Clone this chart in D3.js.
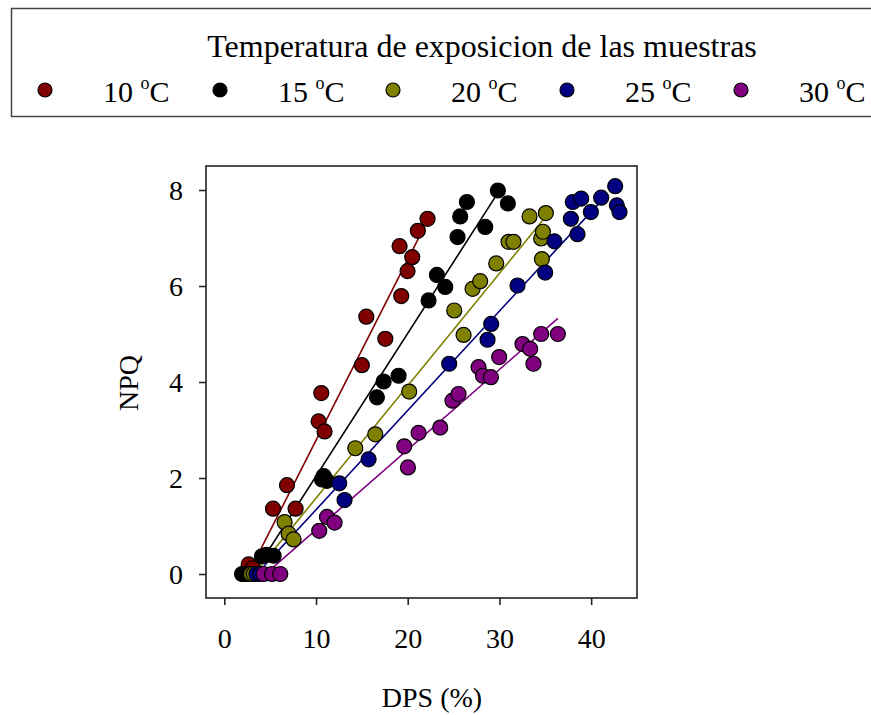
<!DOCTYPE html>
<html>
<head>
<meta charset="utf-8">
<script src="https://cdn.jsdelivr.net/npm/d3@7"></script>
<style>
  html, body { margin: 0; padding: 0; background: #fff; }
  svg { display: block; font-family: "Liberation Serif", "Times New Roman", serif; }
</style>
</head>
<body>
<svg id="chart" width="871" height="715"></svg>
<script>
// ---------------- DATA ----------------
const seriesNames = ["10", "15", "20", "25", "30"];
const seriesColors = ["#800000", "#000000", "#808000", "#000080", "#800080"];
const legendTitle = "Temperatura de exposicion de las muestras";
const xTicks = [0, 10, 20, 30, 40];
const yTicks = [0, 2, 4, 6, 8];
const xLabel = "DPS (%)";
const yLabel = "NPQ";

const dps10 = [2.1, 2.65, 3.1, 5.31, 6.83, 7.77, 10.28, 10.57, 10.93, 15.0, 15.48, 17.55, 19.11, 19.29, 19.98, 20.49, 21.1, 22.16];
const npq10 = [0, 0.2, 0.12, 1.36, 1.85, 1.36, 3.18, 3.77, 2.97, 4.35, 5.36, 4.9, 6.83, 5.79, 6.31, 6.6, 7.15, 7.40];

const dps15 = [1.93, 2.47, 4.1, 4.6, 5.37, 10.65, 10.83, 11.2, 16.64, 17.37, 19.0, 22.27, 23.18, 24.09, 25.43, 25.72, 26.45, 28.45, 29.83, 30.92];
const npq15 = [0, 0, 0.37, 0.4, 0.38, 1.97, 2.04, 1.94, 3.68, 4.01, 4.13, 5.70, 6.23, 5.98, 7.02, 7.45, 7.75, 7.23, 7.99, 7.72];

const dps20 = [2.9, 3.2, 6.57, 7.01, 7.55, 14.28, 16.46, 20.16, 25.07, 26.09, 27.07, 27.9, 29.65, 30.99, 31.53, 33.28, 34.55, 34.63, 34.74, 35.06];
const npq20 = [0, 0, 1.08, 0.84, 0.72, 2.62, 2.91, 3.80, 5.49, 4.98, 5.94, 6.10, 6.47, 6.92, 6.92, 7.45, 6.99, 6.56, 7.13, 7.52];

const dps25 = [3.5, 3.9, 12.53, 13.11, 15.73, 24.52, 28.7, 29.1, 31.97, 34.99, 36.0, 37.79, 38.0, 38.51, 38.91, 39.97, 41.09, 42.62, 42.8, 43.09];
const npq25 = [0, 0, 1.89, 1.54, 2.39, 4.38, 4.88, 5.21, 6.01, 6.28, 6.93, 7.40, 7.75, 7.08, 7.82, 7.54, 7.84, 8.08, 7.68, 7.54];

const dps30 = [4.29, 5.2, 6.1, 10.35, 11.19, 12.02, 19.62, 20.02, 21.18, 23.54, 24.88, 25.54, 27.72, 28.2, 29.07, 29.97, 32.51, 33.35, 33.71, 34.55, 36.37];
const npq30 = [0, 0, 0, 0.90, 1.19, 1.07, 2.66, 2.22, 2.94, 3.05, 3.61, 3.75, 4.31, 4.13, 4.10, 4.52, 4.79, 4.69, 4.38, 5.0, 5.0];

// linear regression lines
const fitSlope = [0.3766, 0.2977, 0.2341, 0.2069, 0.167];
const fitIntercept = [-0.98, -0.94, -0.76, -0.73, -0.75];
const fitXStart = [2.4, 3.0, 3.1, 3.4, 4.6];
const fitXEnd = [22.4, 29.9, 34.74, 41.0, 36.37];

const dpsAll = [dps10, dps15, dps20, dps25, dps30];
const npqAll = [npq10, npq15, npq20, npq25, npq30];

// ---------------- CHART ----------------
const svg = d3.select("#chart");
const mLeft = 206, mRight = 637, mTop = 166, mBottom = 598;

const x = d3.scaleLinear().domain([-2, 45]).range([mLeft, mRight]);
const y = d3.scaleLinear().domain([-0.5, 8.5]).range([mBottom, mTop]);

const axisColor = "#222";

// frame
svg.append("rect")
  .attr("x", mLeft).attr("y", mTop)
  .attr("width", mRight - mLeft).attr("height", mBottom - mTop)
  .attr("fill", "none").attr("stroke", axisColor).attr("stroke-width", 1.6);

// axes
const xAxis = svg.append("g").attr("transform", `translate(0,${mBottom})`)
  .call(d3.axisBottom(x).tickValues(xTicks).tickSize(7).tickPadding(23).tickSizeOuter(0));
const yAxis = svg.append("g").attr("transform", `translate(${mLeft},0)`)
  .call(d3.axisLeft(y).tickValues(yTicks).tickSize(7).tickPadding(16).tickSizeOuter(0));
[xAxis, yAxis].forEach(g => {
  g.select(".domain").remove();
  g.selectAll(".tick line").attr("stroke", axisColor).attr("stroke-width", 1.6);
  g.selectAll(".tick text").attr("fill", "#000")
    .style("font-family", '"Liberation Serif", "Times New Roman", serif')
    .style("font-size", "28px");
});
xAxis.selectAll(".tick text").attr("dy", "0.71em");
yAxis.selectAll(".tick text").attr("dy", "0.34em");

// axis labels
svg.append("text").attr("x", 432).attr("y", 707)
  .attr("text-anchor", "middle").style("font-size", "28px").text(xLabel);
svg.append("text")
  .attr("transform", "translate(138,383) rotate(-90)")
  .attr("text-anchor", "middle").style("font-size", "28px").text(yLabel);

// regression lines
const plot = svg.append("g");
seriesNames.forEach((n, i) => {
  const pts = [fitXStart[i], fitXEnd[i]].map(v => [v, fitIntercept[i] + fitSlope[i] * v]);
  plot.append("path")
    .attr("d", d3.line().x(d => x(d[0])).y(d => y(d[1]))(pts))
    .attr("stroke", seriesColors[i]).attr("stroke-width", 1.6).attr("fill", "none");
});

// points
seriesNames.forEach((n, i) => {
  const data = dpsAll[i].map((v, j) => [v, npqAll[i][j]]);
  plot.append("g").selectAll("circle").data(data).join("circle")
    .attr("cx", d => x(d[0])).attr("cy", d => y(d[1])).attr("r", 7.5)
    .attr("fill", seriesColors[i]).attr("stroke", "#000").attr("stroke-width", 1.2);
});

// legend
const lg = svg.append("g");
lg.append("rect").attr("x", 11.5).attr("y", 8.5).attr("width", 880).attr("height", 108)
  .attr("fill", "none").attr("stroke", "#444").attr("stroke-width", 1.5);
lg.append("text").attr("x", 482).attr("y", 57).attr("text-anchor", "middle")
  .style("font-size", "32px").text(legendTitle);
const legX = [45, 220, 393, 567, 741];
seriesNames.forEach((n, i) => {
  lg.append("circle").attr("cx", legX[i]).attr("cy", 90).attr("r", 7)
    .attr("fill", seriesColors[i]).attr("stroke", "#000").attr("stroke-width", 1.2);
  const t = lg.append("text").attr("x", legX[i] + 58).attr("y", 102).style("font-size", "30px");
  t.append("tspan").text(n + " ");
  t.append("tspan").attr("dy", -13).style("font-size", "18px").text("o");
  t.append("tspan").attr("dy", 13).text("C");
});
</script>
</body>
</html>
